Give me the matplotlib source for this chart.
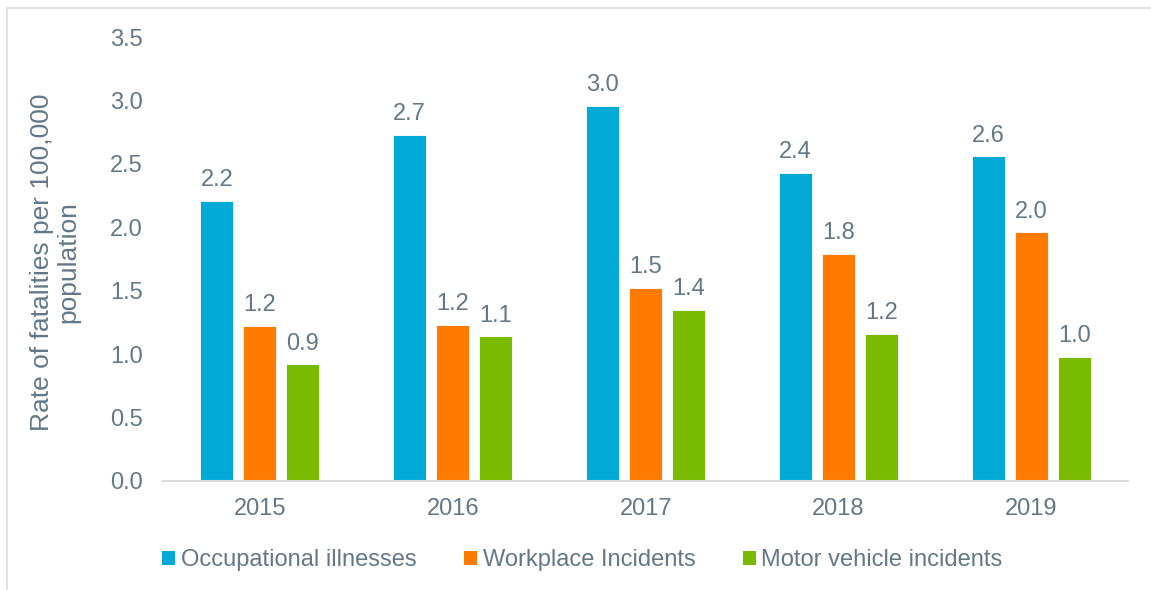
import numpy as np
import matplotlib.pyplot as plt
from matplotlib.patches import Patch, Rectangle

plt.rcParams['font.family'] = ['Liberation Sans', 'DejaVu Sans']

# data
years = ['2015', '2016', '2017', '2018', '2019']
series = ['Occupational illnesses', 'Workplace Incidents', 'Motor vehicle incidents']
occupational = [2.21, 2.73, 2.96, 2.43, 2.56]
workplace = [1.22, 1.23, 1.52, 1.79, 1.96]
motor = [0.92, 1.14, 1.35, 1.16, 0.98]
yticks = [0.0, 0.5, 1.0, 1.5, 2.0, 2.5, 3.0, 3.5]

colors = ['#00AAD4', '#FF7B00', '#78BB00']
txt = '#627888'
fs = 17

fig = plt.figure(figsize=(11.51, 5.90), dpi=100)
ax = fig.add_axes([0.142, 0.185, 0.838, 0.752])

# light frame around chart area
fig.patches.append(Rectangle((7/1151, -0.05), 1.2, 1 - 8/590 + 0.05,
                             transform=fig.transFigure, fill=False,
                             edgecolor='#D9DEE2', linewidth=1.2))

x = np.arange(len(years))
w = 0.171
step = 0.223
for i, (vals, c) in enumerate(zip([occupational, workplace, motor], colors)):
    pos = x + (i - 1) * step
    bars = ax.bar(pos, vals, width=w, color=c, edgecolor='white', linewidth=0.6, zorder=2)
    for b, v in zip(bars, vals):
        ax.annotate('%.1f' % v, (b.get_x() + b.get_width() / 2, v),
                    xytext=(0, 7), textcoords='offset points',
                    ha='center', va='bottom', fontsize=fs, color=txt)

ax.set_xlim(-0.5, len(years) - 0.5)
ax.set_ylim(0, 3.5)
ax.set_yticks(yticks)
ax.set_yticklabels(['%.1f' % t for t in yticks])
ax.set_xticks(x)
ax.set_xticklabels(years)
ax.tick_params(axis='both', length=0, labelsize=fs, labelcolor=txt)
ax.tick_params(axis='y', pad=15)
ax.tick_params(axis='x', pad=12)

for s in ['top', 'right', 'left']:
    ax.spines[s].set_visible(False)
ax.spines['bottom'].set_color('#D9DDE0')
ax.spines['bottom'].set_linewidth(1.5)

fig.text(55/1151, 1 - 262/590, 'Rate of fatalities per 100,000\npopulation',
         rotation=90, ha='center', va='center', fontsize=19, color=txt,
         linespacing=1.1, multialignment='center')

handles = [Patch(facecolor=c, edgecolor='none') for c in colors]
fig.legend(handles, series, loc='center left', bbox_to_anchor=(162/1151, 1 - 560/590),
           ncol=3, frameon=False, fontsize=fs, labelcolor=txt,
           handlelength=0.55, handleheight=0.55, handletextpad=0.25,
           columnspacing=2.0, borderaxespad=0, borderpad=0)

fig.savefig('out.png', dpi=100)
